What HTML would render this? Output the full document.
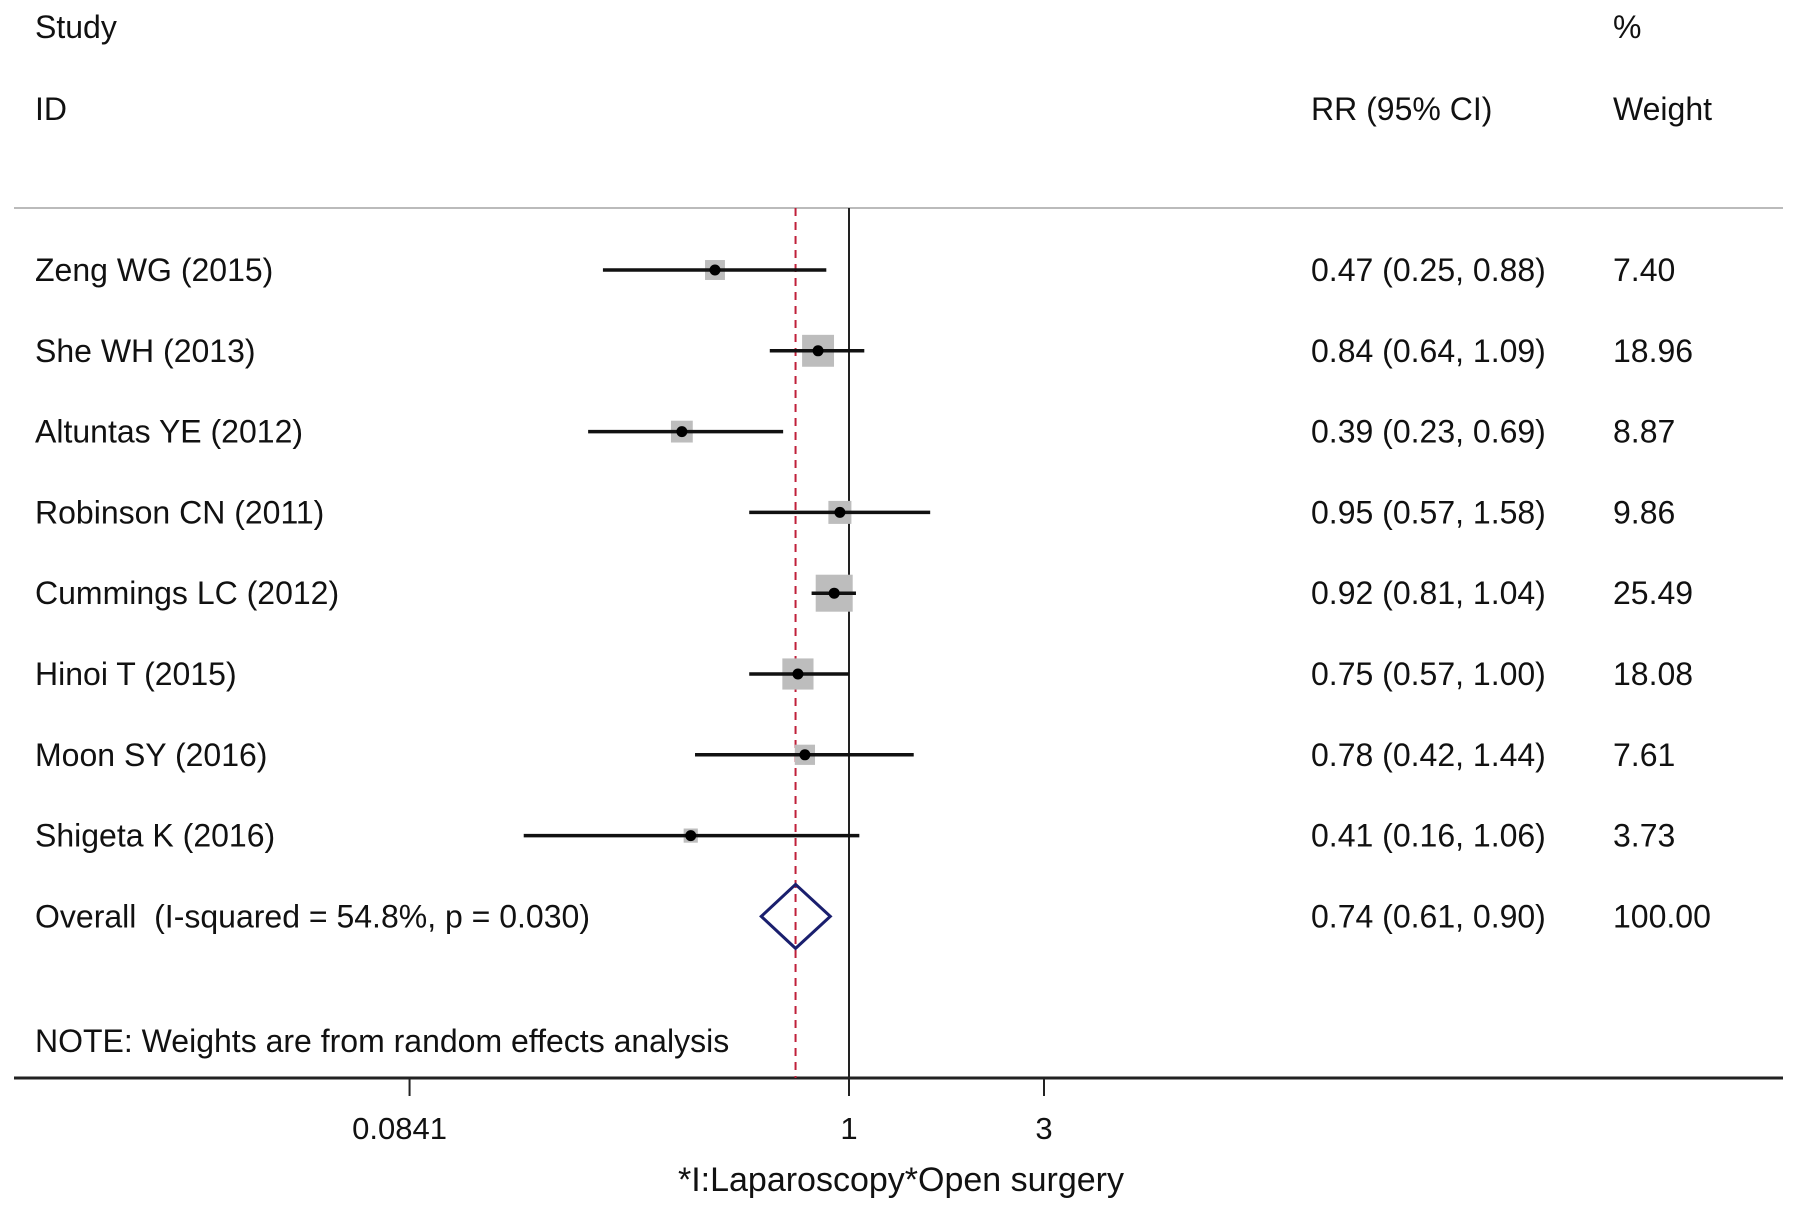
<!DOCTYPE html>
<html><head><meta charset="utf-8"><style>
html,body{margin:0;padding:0;background:#fff}
svg{display:block}
text{font-family:"Liberation Sans",Arial,sans-serif;fill:#111}
</style></head><body>
<svg id="chart" width="1795" height="1211" viewBox="0 0 1795 1211">
<g id="static">
<text x="35" y="38" font-size="32">Study</text>
<text x="35" y="120" font-size="32">ID</text>
<text x="1311" y="120" font-size="32">RR (95% CI)</text>
<text x="1613" y="38" font-size="32">%</text>
<text x="1613" y="120" font-size="32">Weight</text>
<line x1="14" y1="208" x2="1783" y2="208" stroke="#bbb" stroke-width="2"/>
<text x="35" y="1052" font-size="32">NOTE: Weights are from random effects analysis</text>
<line x1="14" y1="1078" x2="1783" y2="1078" stroke="#222" stroke-width="3"/>
<text x="901" y="1191" font-size="34" text-anchor="middle">*I:Laparoscopy*Open surgery</text>
</g>
<g id="marks"></g>
</svg>
<script>
const studies=["Zeng WG (2015)","She WH (2013)","Altuntas YE (2012)","Robinson CN (2011)","Cummings LC (2012)","Hinoi T (2015)","Moon SY (2016)","Shigeta K (2016)"];
const rr=[0.47,0.84,0.39,0.95,0.92,0.75,0.78,0.41];
const lower=[0.25,0.64,0.23,0.57,0.81,0.57,0.42,0.16];
const upper=[0.88,1.09,0.69,1.58,1.04,1.00,1.44,1.06];
const weights=[7.40,18.96,8.87,9.86,25.49,18.08,7.61,3.73];
const rrLabels=["0.47 (0.25, 0.88)","0.84 (0.64, 1.09)","0.39 (0.23, 0.69)","0.95 (0.57, 1.58)","0.92 (0.81, 1.04)","0.75 (0.57, 1.00)","0.78 (0.42, 1.44)","0.41 (0.16, 1.06)"];
const weightLabels=["7.40","18.96","8.87","9.86","25.49","18.08","7.61","3.73"];
const overall=[0.74,0.61,0.90];
const overallLabel="Overall\u00a0\u00a0(I-squared = 54.8%, p = 0.030)";
const overallRR="0.74 (0.61, 0.90)";
const overallWeight="100.00";
const ticks=[0.0841,1,3];
const tickLabels=["0.0841","1","3"];

const NS="http://www.w3.org/2000/svg";
const g=document.getElementById('marks');
const xs=v=>849+177.5*Math.log(v);
const ys=i=>270+80.8*i;
function mk(t,a){const e=document.createElementNS(NS,t);for(const k in a)e.setAttribute(k,a[k]);g.appendChild(e);return e;}

let e;
e=mk('line',{x1:xs(overall[0]),y1:208,x2:xs(overall[0]),y2:1078,stroke:'#c0203a','stroke-width':2,'stroke-dasharray':'8,6'});


e=mk('line',{x1:xs(1),y1:208,x2:xs(1),y2:1078,stroke:'#222','stroke-width':2});



studies.forEach((s,i)=>{
  const y=ys(i);
  const side=37*Math.sqrt(weights[i]/25.49);
  e=mk('rect',{x:xs(rr[i])-side/2,y:y-side/2,width:side,height:side,fill:'#bdbdbd'});
  
  
  e=mk('line',{x1:xs(lower[i]),y1:y,x2:xs(upper[i]),y2:y,stroke:'#111','stroke-width':3.5});
  
  
  e=mk('circle',{cx:xs(rr[i]),cy:y,r:5.5,fill:'#000'});
  
  
  e=mk('text',{x:35,y:y+11,'font-size':32});e.textContent=s;
  
  
  e=mk('text',{x:1311,y:y+11,'font-size':32});e.textContent=rrLabels[i];
  
  
  e=mk('text',{x:1613,y:y+11,'font-size':32});e.textContent=weightLabels[i];
  
  
});
const oy=ys(studies.length);
e=mk('polygon',{points:`${xs(overall[1])},${oy} ${xs(overall[0])},${oy-32} ${xs(overall[2])},${oy} ${xs(overall[0])},${oy+32}`,fill:'none',stroke:'#1a1f6e','stroke-width':3});


e=mk('text',{x:35,y:oy+11,'font-size':32});e.textContent=overallLabel;


e=mk('text',{x:1311,y:oy+11,'font-size':32});e.textContent=overallRR;


e=mk('text',{x:1613,y:oy+11,'font-size':32});e.textContent=overallWeight;



ticks.forEach((t,i)=>{
  e=mk('line',{x1:xs(t),y1:1078,x2:xs(t),y2:1096,stroke:'#222','stroke-width':2});
  
  
  e=mk('text',{x:xs(t)-(i===0?10:0),y:1139,'font-size':31,'text-anchor':'middle'});e.textContent=tickLabels[i];
  
  
});
</script>
</body></html>
